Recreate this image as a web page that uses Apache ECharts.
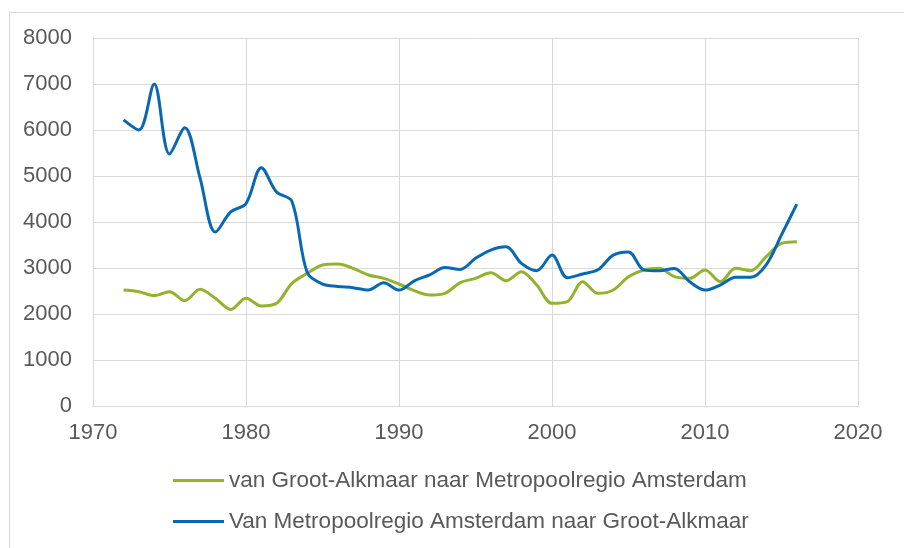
<!DOCTYPE html>
<html>
<head>
<meta charset="utf-8">
<script src="https://cdn.jsdelivr.net/npm/echarts@6/dist/echarts.min.js"></script>
<style>html,body{margin:0;padding:0;background:#fff;}#c{width:904px;height:548px;}</style>
</head>
<body>
<div id="c"></div>
<script>
var years = [1972,1973,1974,1975,1976,1977,1978,1979,1980,1981,1982,1983,1984,1985,1986,1987,1988,1989,1990,1991,1992,1993,1994,1995,1996,1997,1998,1999,2000,2001,2002,2003,2004,2005,2006,2007,2008,2009,2010,2011,2012,2013,2014,2015,2016];
var seriesNames = ['van Groot-Alkmaar naar Metropoolregio Amsterdam','Van Metropoolregio Amsterdam naar Groot-Alkmaar'];
var groenNaarMRA = [2520,2485,2400,2485,2290,2536,2340,2100,2340,2174,2232,2667,2884,3065,3087,2993,2848,2775,2652,2507,2413,2449,2681,2775,2898,2724,2920,2630,2232,2268,2703,2449,2522,2812,2957,2993,2812,2775,2957,2703,2993,2942,3247,3537,3572];
var blauwNaarGA = [6220,6000,7000,5480,6050,4950,3780,4220,4400,5180,4650,4450,2900,2650,2600,2570,2520,2680,2520,2720,2850,3010,2970,3210,3390,3460,3100,2940,3280,2790,2870,2960,3280,3350,2960,2940,2990,2700,2520,2630,2800,2800,3070,3720,4390];
var xTicks = [1970,1980,1990,2000,2010,2020];
var yTicks = [0,1000,2000,3000,4000,5000,6000,7000,8000];

function pairs(vals){ return years.map(function(y,i){ return [y, vals[i]]; }); }

var font = 'Liberation Sans, Arial, sans-serif';
var textCol = '#595959';
var gridCol = '#d9d9d9';
var chart = echarts.init(document.getElementById('c'), null, {renderer:'canvas'});
chart.setOption({
  animation:false,
  backgroundColor:'#ffffff',
  graphic:[{type:'rect', left:7, top:10, shape:{width:1000,height:1000}, style:{fill:'none', stroke:'#d9d9d9', lineWidth:1}, silent:true, z:-1}],
  grid:{left:93, right:46, top:38, bottom:142, containLabel:false},
  xAxis:{type:'value', min:xTicks[0], max:xTicks[xTicks.length-1], interval:10,
    axisLine:{show:true, lineStyle:{color:gridCol, width:1}}, axisTick:{show:false},
    splitLine:{show:true, lineStyle:{color:gridCol, width:1}},
    axisLabel:{color:textCol, fontSize:22, fontFamily:font, margin:16, formatter:function(v){return String(v);}}},
  yAxis:{type:'value', min:yTicks[0], max:yTicks[yTicks.length-1], interval:1000,
    axisLine:{show:true, lineStyle:{color:gridCol, width:1}}, axisTick:{show:false},
    splitLine:{show:true, lineStyle:{color:gridCol, width:1}},
    axisLabel:{color:textCol, fontSize:22, fontFamily:font, margin:21, formatter:function(v){return String(v);}}},
  legend:{orient:'vertical', left:168, top:463, icon:'rect', itemWidth:51, itemHeight:3, itemGap:16,
    textStyle:{color:textCol, fontSize:22.5, fontFamily:font, lineHeight:25},
    data:seriesNames},
  series:[
    {name:seriesNames[0], type:'line', data:pairs(groenNaarMRA), smooth:0.33, symbol:'none', lineStyle:{color:'#92b32d', width:3}, itemStyle:{color:'#92b32d'}},
    {name:seriesNames[1], type:'line', data:pairs(blauwNaarGA), smooth:0.33, symbol:'none', lineStyle:{color:'#0868b1', width:3}, itemStyle:{color:'#0868b1'}, z:3}
  ]
});
</script>
</body>
</html>
